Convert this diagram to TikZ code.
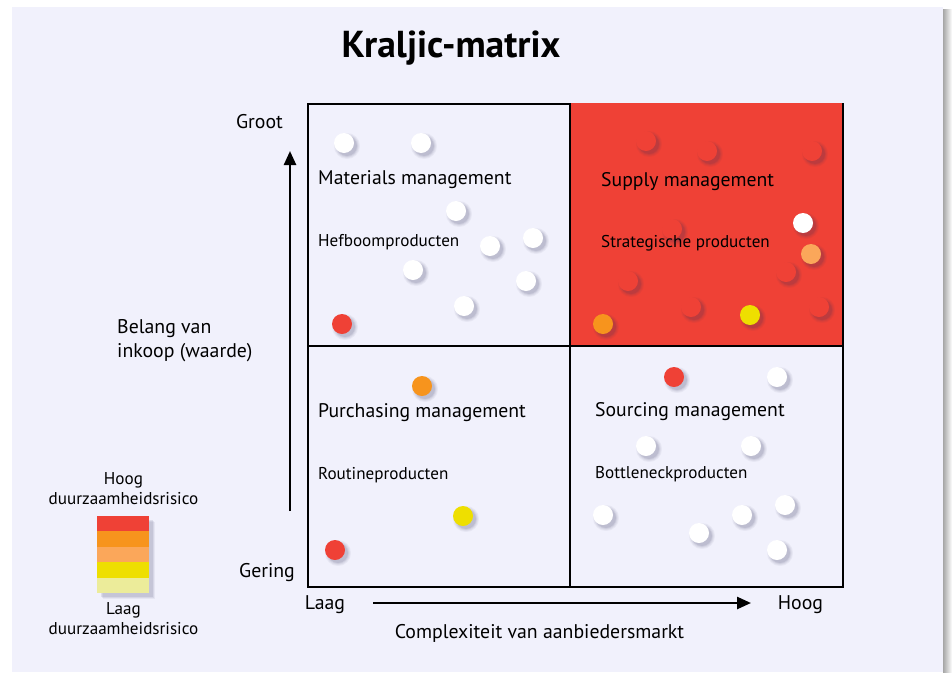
\documentclass[tikz,border=0pt]{standalone}
\usepackage{fontspec}
\setmainfont{PT Sans}
\usetikzlibrary{arrows.meta}
\definecolor{panel}{HTML}{F1F1FC}
\definecolor{kred}{HTML}{EF4136}
\definecolor{korange}{HTML}{F7941D}
\definecolor{klight}{HTML}{FBA75A}
\definecolor{kyellow}{HTML}{EEDF00}
\definecolor{kpale}{HTML}{ECEC9A}
\definecolor{kshadow}{HTML}{30305A}
\newcommand\kdot[3]{%
  \foreach \r/\o in {13/0.05,12/0.06,11/0.08,10/0.10}{\fill[kshadow,opacity=\o] (#1+3,#2+3) circle (\r pt);}
  \fill[#3] (#1,#2) circle (10pt);
}
\tikzset{
  big/.style={font=\fontsize{19.7}{23}\selectfont, anchor=west, inner sep=0pt},
  small/.style={font=\fontsize{17.1}{20}\selectfont, anchor=west, inner sep=0pt},
  lab/.style={font=\fontsize{19.8}{24}\selectfont, inner sep=0pt},
  leg/.style={font=\fontsize{17.1}{20}\selectfont, inner sep=0pt, align=center},
  axis/.style={line width=2.5pt, -{Triangle[length=14pt,width=12pt]}},
}
\begin{document}
\begin{tikzpicture}[x=1pt,y=-1pt]
\useasboundingbox (0,0) rectangle (952,672);
% panel
\fill[white] (0,0) rectangle (952,672);
\shade[left color=black!35, right color=white] (943,9) rectangle (952,672);
\fill[panel] (12,7) rectangle (943,672);
% title
\node[font=\fontsize{37.5}{44}\selectfont\bfseries, inner sep=0pt] (title) at (451,48) {Kraljic-matrix};
% matrix
\fill[kred] (570,104) rectangle (843,346);
\draw[line width=2.5pt] (308,104) rectangle (843,587);
\draw[line width=2.5pt] (570,104) -- (570,587);
\draw[line width=2.5pt] (308,346) -- (843,346);
\fill[kred] (571.3,102.8) rectangle (842,344.8);
% dots Q1
\kdot{344}{143}{white}
\kdot{421}{143}{white}
\kdot{456}{211}{white}
\kdot{490}{246}{white}
\kdot{533}{238}{white}
\kdot{413}{270}{white}
\kdot{526}{281}{white}
\kdot{464}{306}{white}
\kdot{342}{324}{kred}
% dots Q2
\kdot{646}{141}{kred}
\kdot{707}{151}{kred}
\kdot{812}{151}{kred}
\kdot{672}{229}{kred}
\kdot{628}{281}{kred}
\kdot{786}{272}{kred}
\kdot{691}{307}{kred}
\kdot{819}{307}{kred}
\kdot{803}{223}{white}
\kdot{811}{254}{klight}
\kdot{750}{315}{kyellow}
\kdot{603}{324}{korange}
% dots Q3
\kdot{422}{386}{korange}
\kdot{463}{516}{kyellow}
\kdot{335}{550}{kred}
% dots Q4
\kdot{674}{377}{kred}
\kdot{777}{377}{white}
\kdot{646}{446}{white}
\kdot{751}{446}{white}
\kdot{603}{515}{white}
\kdot{699}{533}{white}
\kdot{742}{515}{white}
\kdot{785}{505}{white}
\kdot{777}{550}{white}
% quadrant labels
\node[big] (q1a) at (318,179.5) {Materials management};
\node[small] (q1b) at (318,242) {Hefboomproducten};
\node[big] (q2a) at (601,181.5) {Supply management};
\node[small] (q2b) at (601,243) {Strategische producten};
\node[big] (q3a) at (318,412.5) {Purchasing management};
\node[small] (q3b) at (318,475) {Routineproducten};
\node[big] (q4a) at (595,411.5) {Sourcing management};
\node[small] (q4b) at (595,474) {Bottleneckproducten};
% axes
\coordinate (ybot) at (290,511);
\coordinate (ytop) at (290,151);
\coordinate (xl) at (373,603);
\coordinate (xr) at (751,603);
\draw[axis] (ybot) -- (ytop);
\draw[axis] (xl) -- (xr);
\node[lab] (groot) at (259.5,122) {Groot};
\node[lab] (gering) at (267,573) {Gering};
\node[lab] (laag) at (325,605) {Laag};
\node[lab] (hoog) at (800.5,605) {Hoog};
\node[lab] (xlabel) at (539.5,633.5) {Complexiteit van aanbiedersmarkt};
\node[lab, anchor=west, align=left, font=\fontsize{19.8}{24}\selectfont] (ylabel) at (117,340.5) {Belang van\\inkoop (waarde)};
% legend
\node[leg] (leghi) at (123.5,488.5) {Hoog\\duurzaamheidsrisico};
\node[leg] (leglo) at (123.5,619) {Laag\\duurzaamheidsrisico};
\foreach \o/\d in {0.06/6,0.08/5,0.10/4}{\fill[kshadow,opacity=\o] (97+\d,516+\d) rectangle (149+\d,593+\d);}
\fill[kred] (97,516) rectangle (149,531.4);
\fill[korange] (97,531.4) rectangle (149,546.8);
\fill[klight] (97,546.8) rectangle (149,562.2);
\fill[kyellow] (97,562.2) rectangle (149,577.6);
\fill[kpale] (97,577.6) rectangle (149,593);
\end{tikzpicture}
\end{document}
